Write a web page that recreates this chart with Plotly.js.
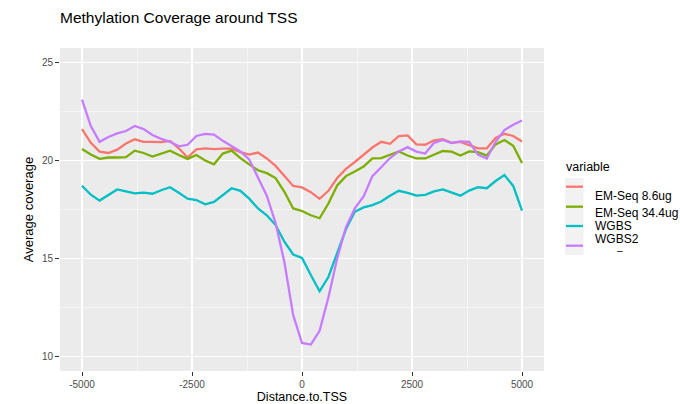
<!DOCTYPE html>
<html>
<head>
<meta charset="utf-8">
<script src="https://cdn.plot.ly/plotly-3.0.1.min.js"></script>
<style>
  body { margin: 0; background: #fff; }
  #plot { width: 680px; height: 404px; }
</style>
</head>
<body>
<div id="plot"></div>
<script>
// Distance to TSS (bp)
const distance = [-5000, -4800, -4600, -4400, -4200, -4000, -3800, -3600, -3400, -3200,
                  -3000, -2800, -2600, -2400, -2200, -2000, -1800, -1600, -1400, -1200,
                  -1000, -800, -600, -400, -200, 0, 200, 400, 600, 800,
                  1000, 1200, 1400, 1600, 1800, 2000, 2200, 2400, 2600, 2800,
                  3000, 3200, 3400, 3600, 3800, 4000, 4200, 4400, 4600, 4800, 5000];

// Average coverage per series
const emseq86 = [21.6, 20.9, 20.45, 20.38, 20.55, 20.86, 21.08, 20.95, 20.95, 20.93,
                 21.0, 20.62, 20.15, 20.56, 20.62, 20.58, 20.6, 20.6, 20.42, 20.3,
                 20.4, 20.1, 19.72, 19.2, 18.7, 18.62, 18.38, 18.04, 18.45, 19.1,
                 19.57, 19.92, 20.3, 20.66, 20.95, 20.85, 21.24, 21.28, 20.82, 20.8,
                 21.03, 21.08, 20.9, 20.95, 20.78, 20.62, 20.62, 21.15, 21.36, 21.25, 20.97];

const emseq344 = [20.58, 20.3, 20.08, 20.15, 20.15, 20.17, 20.5, 20.38, 20.2, 20.35,
                  20.5, 20.28, 20.08, 20.28, 20.0, 19.8, 20.35, 20.5, 20.12, 19.8,
                  19.5, 19.35, 19.1, 18.4, 17.55, 17.42, 17.2, 17.05, 17.8, 18.72,
                  19.2, 19.44, 19.69, 20.1, 20.12, 20.29, 20.46, 20.25, 20.1, 20.1,
                  20.3, 20.48, 20.45, 20.25, 20.46, 20.42, 20.25, 20.82, 21.04, 20.75, 19.87];

const wgbs = [18.71, 18.25, 17.95, 18.25, 18.52, 18.42, 18.32, 18.36, 18.3, 18.48,
              18.63, 18.35, 18.05, 17.98, 17.76, 17.88, 18.22, 18.58, 18.45, 18.05,
              17.55, 17.2, 16.7, 15.85, 15.2, 15.02, 14.15, 13.32, 14.05, 15.3,
              16.5, 17.38, 17.6, 17.72, 17.9, 18.2, 18.45, 18.34, 18.2, 18.24,
              18.42, 18.52, 18.36, 18.2, 18.46, 18.63, 18.58, 18.95, 19.25, 18.7, 17.44];

const wgbs2 = [23.1, 21.75, 20.95, 21.2, 21.38, 21.5, 21.76, 21.6, 21.3, 21.1,
               20.95, 20.72, 20.8, 21.25, 21.36, 21.32, 21.0, 20.75, 20.46, 20.05,
               19.15, 18.2, 16.8, 14.8, 12.1, 10.68, 10.6, 11.3, 13.0, 15.0,
               16.6, 17.55, 18.16, 19.2, 19.65, 20.12, 20.46, 20.68, 20.45, 20.35,
               20.9, 21.05, 20.89, 20.97, 20.95, 20.3, 20.1, 20.95, 21.55, 21.82, 22.04];

const seriesNames = ['EM-Seq 8.6ug', 'EM-Seq 34.4ug', 'WGBS', 'WGBS2'];
const seriesColors = ['#F8766D', '#7CAE00', '#00BFC4', '#C77CFF'];
const seriesValues = [emseq86, emseq344, wgbs, wgbs2];

const xTicks = [-5000, -2500, 0, 2500, 5000];
const yTicks = [10, 15, 20, 25];

// plot panel in pixels
const panel = { left: 60, right: 544, top: 48, bottom: 371 };
const W = 680, H = 404;
const px = x => (x - panel.left) / (panel.right - panel.left);
const py = y => (panel.bottom - y) / (panel.bottom - panel.top);

const traces = seriesValues.map((vals, i) => ({
    x: distance,
    y: vals,
    type: 'scatter',
    mode: 'lines',
    name: seriesNames[i],
    line: { color: seriesColors[i], width: 2.3 },
    showlegend: false
}));

// hand-made legend (keys and labels are offset like in the original)
const keyY = [186.7, 206.7, 226, 245.7];
const labelY = [196, 212.5, 225.5, 239];
const shapes = [{
    type: 'rect', xref: 'paper', yref: 'paper',
    x0: px(565), x1: px(583.5), y0: py(255), y1: py(178),
    fillcolor: '#F2F2F2', line: { width: 0 }
}];
const annotations = [{
    text: 'variable', xref: 'paper', yref: 'paper',
    x: px(564), y: py(167), xanchor: 'left', yanchor: 'middle',
    showarrow: false, font: { size: 12.5, color: '#000' }
}, {
    text: '–', xref: 'paper', yref: 'paper',
    x: px(620), y: py(251), xanchor: 'center', yanchor: 'middle',
    showarrow: false, font: { size: 10, color: '#000' }
}];
seriesNames.forEach((name, i) => {
    shapes.push({
        type: 'line', xref: 'paper', yref: 'paper',
        x0: px(566), x1: px(583), y0: py(keyY[i]), y1: py(keyY[i]),
        line: { color: seriesColors[i], width: 2.3 }
    });
    annotations.push({
        text: name, xref: 'paper', yref: 'paper',
        x: px(593), y: py(labelY[i]), xanchor: 'left', yanchor: 'middle',
        showarrow: false, font: { size: 12, color: '#000' }
    });
});

const layout = {
    width: W,
    height: H,
    margin: { l: panel.left, r: W - panel.right, t: panel.top, b: H - panel.bottom },
    paper_bgcolor: '#FFFFFF',
    plot_bgcolor: '#EBEBEB',
    font: { family: 'Liberation Sans, Arial, sans-serif', color: '#000' },
    title: {
        text: 'Methylation Coverage around TSS',
        x: px(60), xanchor: 'left', xref: 'paper',
        y: 1 - 18 / H, yanchor: 'middle', yref: 'container',
        font: { size: 15.5, color: '#000' }
    },
    xaxis: {
        range: [-5500, 5500],
        tickvals: xTicks,
        ticktext: xTicks.map(String),
        ticks: 'outside', ticklen: 4, tickwidth: 1, tickcolor: '#333333',
        tickfont: { size: 10, color: '#4D4D4D' },
        showgrid: true, gridcolor: '#FFFFFF', gridwidth: 1.1,
        minor: { dtick: 1250, tick0: -3750, showgrid: true, gridcolor: '#FFFFFF', gridwidth: 0.5, ticks: '' },
        zeroline: false, showline: false,
        title: { text: 'Distance.to.TSS', font: { size: 12.5, color: '#000' }, standoff: 6 }
    },
    yaxis: {
        range: [9.25, 25.74],
        tickvals: yTicks,
        ticktext: yTicks.map(String),
        ticks: 'outside', ticklen: 4, tickwidth: 1, tickcolor: '#333333',
        tickfont: { size: 10, color: '#4D4D4D' },
        showgrid: true, gridcolor: '#FFFFFF', gridwidth: 1.1,
        minor: { dtick: 2.5, tick0: 12.5, showgrid: true, gridcolor: '#FFFFFF', gridwidth: 0.5, ticks: '' },
        zeroline: false, showline: false,
        title: { text: 'Average coverage', font: { size: 13, color: '#000' }, standoff: 5 }
    },
    shapes: shapes,
    annotations: annotations,
    showlegend: false
};

Plotly.newPlot('plot', traces, layout, { displayModeBar: false, staticPlot: true });
</script>
</body>
</html>
